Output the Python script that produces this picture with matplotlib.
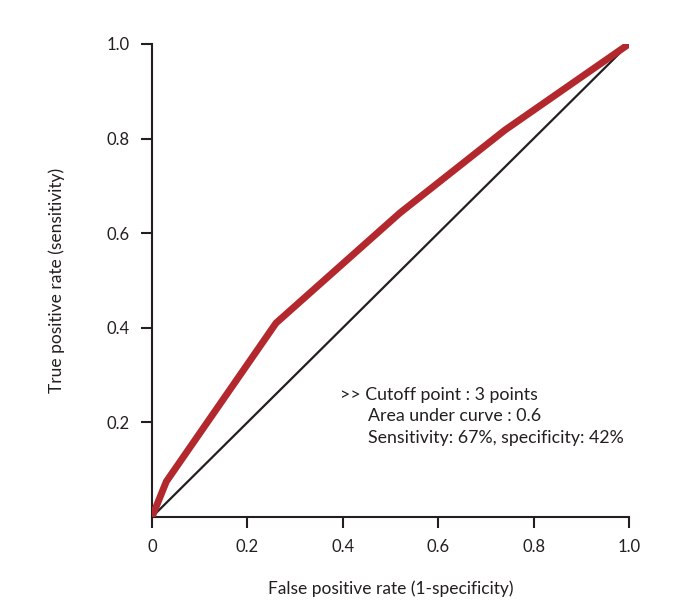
import matplotlib.pyplot as plt

# ROC curve points
fpr = [0, 0.03, 0.26, 0.52, 0.74, 1.0]
tpr = [0, 0.075, 0.41, 0.643, 0.818, 1.0]

x_ticks = [0, 0.2, 0.4, 0.6, 0.8, 1.0]
x_labels = ['0', '0.2', '0.4', '0.6', '0.8', '1.0']
y_ticks = [0.2, 0.4, 0.6, 0.8, 1.0]
y_labels = ['0.2', '0.4', '0.6', '0.8', '1.0']

plt.rcParams['font.family'] = ['Lato', 'DejaVu Sans']

fig = plt.figure(figsize=(6.95, 6.09), dpi=100)
ax = fig.add_axes([0.2187, 0.151, 0.6863, 0.7768])

ax.plot([0, 1], [0, 1], color='#231f20', lw=1.6, zorder=2)
ax.plot(fpr, tpr, color='#b3282d', lw=5, solid_capstyle='butt', zorder=3)

ax.set_xlim(0, 1)
ax.set_ylim(0, 1)
ax.spines['top'].set_visible(False)
ax.spines['right'].set_visible(False)
for s in ['left', 'bottom']:
    ax.spines[s].set_color('#231f20')
    ax.spines[s].set_linewidth(1.5)

ax.set_xticks(x_ticks)
ax.set_xticklabels(x_labels)
ax.set_yticks(y_ticks)
ax.set_yticklabels(y_labels)
ax.tick_params(direction='out', length=8, width=1.5, color='#231f20',
               labelsize=12, labelcolor='#231f20', pad=8)

ax.set_xlabel('False positive rate (1-specificity)', fontsize=12.5,
              color='#231f20', labelpad=18)
ax.set_ylabel('True positive rate (sensitivity)', fontsize=12.5,
              color='#231f20', labelpad=30)

note_kw = dict(fontsize=12.8, color='#231f20', va='center', transform=ax.transAxes)
ax.text(0.394, 0.258, '>> Cutoff point : 3 points', **note_kw)
ax.text(0.453, 0.2135, 'Area under curve : 0.6', **note_kw)
ax.text(0.453, 0.167, 'Sensitivity: 67%, specificity: 42%', **note_kw)

fig.savefig('out.png', dpi=100)
